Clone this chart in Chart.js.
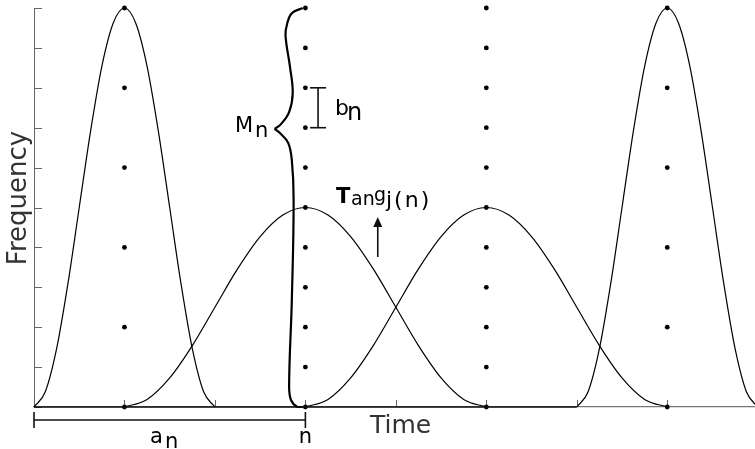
<!DOCTYPE html>
<html>
<head>
<meta charset="utf-8">
<script src="https://cdn.jsdelivr.net/npm/chart.js@4"></script>
<style>
  html, body { margin: 0; padding: 0; background: #fff; }
  canvas { display: block; }
</style>
</head>
<body>
<canvas id="chart" width="755" height="449"></canvas>
<script>
// narrow windows (height 10, support 2) and wide windows (height 5, support 4)
const narrowShape = [0, 0.38, 1.46, 3.09, 5, 6.91, 8.54, 9.62, 10, 9.62, 8.54, 6.91, 5, 3.09, 1.46, 0.38, 0];
const narrowLeftX = [0, 0.125, 0.25, 0.375, 0.5, 0.625, 0.75, 0.875, 1, 1.125, 1.25, 1.375, 1.5, 1.625, 1.75, 1.875, 2];
const narrowRightX = [6, 6.125, 6.25, 6.375, 6.5, 6.625, 6.75, 6.875, 7, 7.125, 7.25, 7.375, 7.5, 7.625, 7.75, 7.875, 8];
const wideShape = [0, 0.19, 0.73, 1.54, 2.5, 3.46, 4.27, 4.81, 5, 4.81, 4.27, 3.46, 2.5, 1.54, 0.73, 0.19, 0];
const wideLeftX = [1, 1.25, 1.5, 1.75, 2, 2.25, 2.5, 2.75, 3, 3.25, 3.5, 3.75, 4, 4.25, 4.5, 4.75, 5];
const wideRightX = [3, 3.25, 3.5, 3.75, 4, 4.25, 4.5, 4.75, 5, 5.25, 5.5, 5.75, 6, 6.25, 6.5, 6.75, 7];

// darker stretch of the time axis
const baselineX = [0, 6];
const baselineY = [0, 0];

// sample grid
const coarseCols = [1, 7];
const coarseRows = [0, 2, 4, 6, 8, 10];
const fineCols = [3, 5];
const fineRows = [0, 1, 2, 3, 4, 5, 6, 7, 8, 9, 10];

// the partition curve at n, with its brace tip
const braceUpperX = [2.97, 2.85, 2.80, 2.78, 2.83, 2.86, 2.82, 2.73, 2.66];
const braceUpperY = [10, 9.87, 9.62, 9.32, 8.52, 7.87, 7.39, 7.09, 6.97];
const braceLowerX = [2.66, 2.73, 2.81, 2.85, 2.87, 2.85, 2.82, 2.84, 2.91, 2.97];
const braceLowerY = [6.97, 6.84, 6.62, 6.19, 5.19, 2.68, 0.55, 0.18, 0, 0];

const xTickValues = [1, 2, 3, 4, 5, 6, 7];
const yTickValues = [0, 1, 2, 3, 4, 5, 6, 7, 8, 9, 10];

function pairs(xs, ys) {
  return xs.map((x, i) => ({ x: x, y: ys[i] }));
}

function grid(cols, rows) {
  const pts = [];
  cols.forEach(c => rows.forEach(r => pts.push({ x: c, y: r })));
  return pts;
}

function curve(data, width) {
  return {
    data: data,
    showLine: true,
    borderColor: '#000',
    borderWidth: width,
    pointRadius: 0,
    cubicInterpolationMode: 'monotone',
    clip: false,
  };
}

function brace(data) {
  return {
    data: data,
    showLine: true,
    borderColor: '#000',
    borderWidth: 2.2,
    pointRadius: 0,
    tension: 0.4,
    clip: false,
  };
}

function seg(ctx, x1, y1, x2, y2) {
  ctx.beginPath();
  ctx.moveTo(x1, y1);
  ctx.lineTo(x2, y2);
  ctx.stroke();
}

const FONT = '"DejaVu Sans", sans-serif';

const overlay = {
  id: 'overlay',
  beforeDatasetsDraw(chart) {
    const { ctx, chartArea: a, scales: { x, y } } = chart;
    ctx.save();
    ctx.strokeStyle = '#666';
    ctx.lineWidth = 1;
    yTickValues.forEach(v => {
      const py = Math.round(y.getPixelForValue(v)) + 0.5;
      seg(ctx, a.left, py, a.left + 8, py);
    });
    xTickValues.forEach(v => {
      const px = Math.round(x.getPixelForValue(v)) + 0.5;
      seg(ctx, px, a.bottom, px, a.bottom - 7);
    });
    ctx.restore();
  },
  afterDraw(chart) {
    const { ctx, chartArea: a, scales: { x, y } } = chart;
    ctx.save();
    ctx.strokeStyle = '#111';
    ctx.fillStyle = '#111';
    ctx.lineWidth = 1.6;

    // b_n spacing marker
    const bx = x.getPixelForValue(3.14);
    const b1 = y.getPixelForValue(8), b0 = y.getPixelForValue(7);
    seg(ctx, bx, b1, bx, b0);
    seg(ctx, bx - 8, b1, bx + 8, b1);
    seg(ctx, bx - 8, b0, bx + 8, b0);

    // a_n bracket under the time axis
    const ly = a.bottom + 13;
    const ax0 = x.getPixelForValue(0), ax1 = x.getPixelForValue(3);
    seg(ctx, ax0, ly, ax1, ly);
    seg(ctx, ax0, ly - 8, ax0, ly + 8);
    seg(ctx, ax1, ly - 8, ax1, ly + 8);

    // arrow under the tangent label
    const tx = x.getPixelForValue(3.8);
    const t0 = y.getPixelForValue(3.76), t1 = y.getPixelForValue(4.76);
    seg(ctx, tx, t0, tx, t1 + 6);
    ctx.beginPath();
    ctx.moveTo(tx, t1);
    ctx.lineTo(tx - 4.5, t1 + 10);
    ctx.lineTo(tx + 4.5, t1 + 10);
    ctx.closePath();
    ctx.fill();

    ctx.textBaseline = 'alphabetic';
    ctx.textAlign = 'left';
    ctx.fillStyle = '#000';
    ctx.font = '21px ' + FONT;
    ctx.fillText('M', 235, 132);
    ctx.fillText('n', 255, 137);
    ctx.font = '22px ' + FONT;
    ctx.fillText('b', 335, 115);
    ctx.font = '24px ' + FONT;
    ctx.fillText('n', 347, 120);
    ctx.font = 'bold 21px ' + FONT;
    ctx.fillText('T', 336, 203);
    ctx.font = '19px ' + FONT;
    ctx.fillText('an', 351, 205);
    ctx.fillText('g', 374, 201);
    ctx.font = '22px ' + FONT;
    ctx.letterSpacing = '2px';
    ctx.fillText('j(n)', 386, 207);
    ctx.letterSpacing = '0px';
    ctx.font = '21px ' + FONT;
    ctx.fillText('a', 150, 443);
    ctx.fillText('n', 165, 448);
    ctx.textAlign = 'center';
    ctx.fillText('n', x.getPixelForValue(3), 443);

    // axis titles
    ctx.fillStyle = '#333';
    ctx.font = '25px ' + FONT;
    ctx.textAlign = 'left';
    ctx.fillText('Time', 370, 433);
    ctx.translate(26, 198);
    ctx.rotate(-Math.PI / 2);
    ctx.textAlign = 'center';
    ctx.font = '26px ' + FONT;
    ctx.fillText('Frequency', 0, 0);
    ctx.restore();
  }
};

const ctx = document.getElementById('chart').getContext('2d');
const chart = new Chart(ctx, {
  type: 'scatter',
  data: {
    datasets: [
      {
        data: pairs(baselineX, baselineY),
        showLine: true,
        borderColor: '#111',
        borderWidth: 1.6,
        pointRadius: 0,
        clip: false,
      },
      curve(pairs(narrowLeftX, narrowShape), 1.2),
      curve(pairs(wideLeftX, wideShape), 1.2),
      curve(pairs(wideRightX, wideShape), 1.2),
      curve(pairs(narrowRightX, narrowShape), 1.2),
      brace(pairs(braceUpperX, braceUpperY)),
      brace(pairs(braceLowerX, braceLowerY)),
      {
        data: grid(coarseCols, coarseRows).concat(grid(fineCols, fineRows)),
        showLine: false,
        pointRadius: 2.4,
        pointBackgroundColor: '#000',
        pointBorderWidth: 0,
        clip: false,
      },
    ],
  },
  options: {
    responsive: false,
    animation: false,
    devicePixelRatio: 1,
    layout: { autoPadding: false, padding: { left: 34, top: 8, right: 0, bottom: 42 } },
    scales: {
      x: {
        type: 'linear',
        min: 0,
        max: 7.97,
        ticks: { display: false },
        grid: { display: false, drawTicks: false },
        border: { display: true, color: '#777', width: 1.2 },
      },
      y: {
        type: 'linear',
        min: 0,
        max: 10,
        ticks: { display: false },
        grid: { display: false, drawTicks: false },
        border: { display: true, color: '#666', width: 1 },
      },
    },
    plugins: {
      legend: { display: false },
      tooltip: { enabled: false },
    },
  },
  plugins: [overlay],
});
</script>
</body>
</html>
